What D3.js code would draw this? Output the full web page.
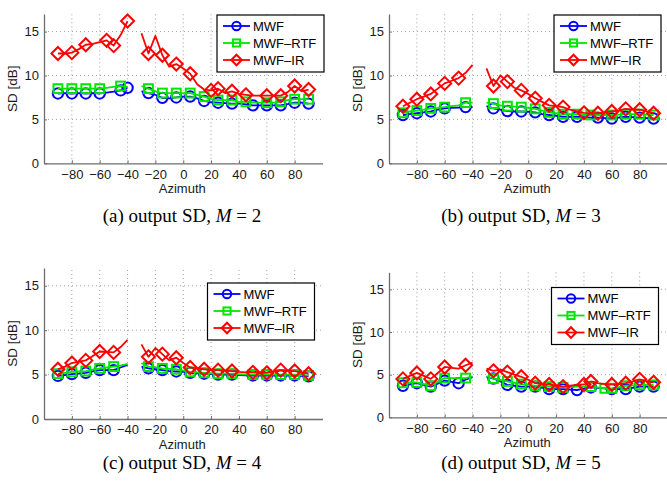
<!DOCTYPE html>
<html><head><meta charset="utf-8">
<script src="https://cdn.jsdelivr.net/npm/d3@7"></script>
<style>
html,body{margin:0;padding:0;background:#fff;}
svg{display:block;}
</style></head>
<body>
<svg id="c" width="667" height="484"></svg>
<script>
// ---------- DATA ----------
const azimuth = [-90,-85,-80,-75,-70,-65,-60,-55,-50,-45,-40,-35,-30,-25,-20,-15,-10,-5,0,5,10,15,20,25,30,35,40,45,50,55,60,65,70,75,80,85,90];
const seriesNames = ["MWF","MWF\u2013RTF","MWF\u2013IR"];
const xTicks = [-80,-60,-40,-20,0,20,40,60,80];
const yTicks = [0,5,10,15];
const panelLabels = ["(a)","(b)","(c)","(d)"];
const panelM = [2,3,4,5];

const mwfA = [7.95,8.0,7.95,8.0,7.95,8.0,7.95,8.05,8.15,8.3,8.6,null,8.2,8.0,7.8,7.45,7.4,7.5,7.6,7.6,7.4,7.1,6.95,6.9,6.85,6.8,6.8,6.7,6.6,6.6,6.6,6.6,6.6,6.75,6.9,6.9,6.8];
const rtfA = [8.5,8.5,8.5,8.5,8.5,8.5,8.5,8.6,8.7,8.8,8.7,null,8.8,8.5,8.2,8.0,8.0,8.0,8.0,8.0,7.8,7.6,7.3,7.2,7.2,7.2,7.0,7.0,6.9,6.9,6.9,6.9,7.0,7.2,7.3,7.3,7.3];
const irA  = [12.5,12.5,12.6,13.0,13.5,13.6,13.8,14.0,13.4,14.6,16.2,null,14.8,12.5,14.5,12.3,11.0,11.3,10.8,10.2,9.0,8.4,8.3,8.5,8.0,8.2,7.9,7.8,7.7,7.7,7.7,7.7,7.7,8.1,8.8,8.2,8.4];

const mwfB = [5.5,5.6,5.7,5.8,5.9,6.1,6.25,6.3,6.35,6.4,6.4,null,6.5,6.25,6.1,5.95,5.9,5.9,5.85,5.8,5.6,5.5,5.4,5.3,5.3,5.3,5.25,5.2,5.2,5.15,5.1,5.2,5.3,5.25,5.2,5.15,5.1];
const rtfB = [5.75,5.9,6.0,6.1,6.25,6.3,6.4,6.5,6.6,6.9,6.9,null,6.9,6.8,6.6,6.5,6.45,6.4,6.3,6.2,6.0,5.8,5.7,5.6,5.6,5.6,5.5,5.5,5.5,5.5,5.5,5.55,5.6,5.6,5.6,5.55,5.5];
const irB  = [6.5,6.9,7.3,7.6,7.9,8.5,9.1,9.4,9.7,10.3,11.2,null,10.8,8.8,10.0,9.3,8.6,8.3,7.9,7.4,7.0,6.6,6.5,6.4,6.1,5.9,5.75,5.7,5.7,5.8,5.9,6.0,6.2,6.15,6.1,5.9,5.7];

const mwfC = [4.85,4.95,5.05,5.1,5.2,5.35,5.5,5.5,5.5,5.8,6.1,null,5.9,5.7,5.6,5.5,5.4,5.35,5.3,5.2,5.15,5.1,5.05,5.0,5.0,5.0,4.95,4.9,4.9,4.9,4.9,4.9,4.9,4.9,4.9,4.85,4.8];
const rtfC = [5.1,5.2,5.3,5.35,5.4,5.55,5.7,5.8,5.9,6.0,6.2,null,6.3,5.9,5.8,5.7,5.65,5.6,5.45,5.3,5.25,5.2,5.15,5.1,5.1,5.1,5.05,5.0,5.0,5.0,5.0,5.0,5.0,5.0,5.0,4.95,4.9];
const irC  = [5.6,5.9,6.3,6.45,6.6,7.1,7.6,7.55,7.5,8.1,8.9,null,8.4,7.0,8.0,7.3,6.6,6.9,6.3,5.8,5.7,5.6,5.55,5.5,5.45,5.4,5.3,5.25,5.25,5.2,5.2,5.35,5.5,5.45,5.4,5.25,5.1];

const mwfD = [3.7,3.85,4.0,3.8,3.6,3.95,4.3,4.15,4.0,4.4,4.7,null,4.7,4.55,4.2,3.8,3.7,3.6,3.6,3.6,3.45,3.3,3.3,3.3,3.25,3.2,3.35,3.5,3.45,3.4,3.3,3.3,3.3,3.45,3.6,3.6,3.6];
const rtfD = [4.05,4.1,4.1,3.9,3.7,4.15,4.6,4.6,4.6,4.6,4.8,null,4.8,4.55,4.4,4.2,4.05,3.9,3.8,3.7,3.65,3.6,3.55,3.5,3.55,3.6,3.6,3.6,3.5,3.4,3.4,3.55,3.7,3.75,3.8,3.8,3.8];
const irD  = [4.5,4.85,5.2,4.85,4.5,5.2,5.9,5.8,5.7,6.1,6.4,null,5.7,5.45,5.6,5.3,5.0,4.75,4.4,4.0,3.9,3.85,3.7,3.6,3.7,3.8,3.85,4.2,4.0,3.9,3.85,3.9,4.0,4.2,4.45,4.25,4.1];

// azimuths carrying a marker, per panel and series
const mkA = [[-90,-80,-70,-60,-45,-40,-25,-15,-5,5,15,25,35,50,60,70,80,90],
             [-90,-80,-70,-60,-45,-25,-15,-5,5,15,25,35,45,60,70,80,90],
             [-90,-80,-70,-55,-50,-40,-25,-15,-5,5,20,25,35,45,60,70,80,90]];
const mkB = [[-90,-80,-70,-60,-45,-25,-15,-5,5,15,25,35,50,60,70,80,90],
             [-90,-80,-70,-60,-45,-25,-15,-5,5,15,25,35,45,60,70,80,90],
             [-90,-80,-70,-60,-50,-25,-15,-5,5,15,25,40,50,60,70,80,90]];
const mkC = [[-90,-80,-70,-60,-50,-25,-15,-5,5,15,25,35,50,60,70,80,90],
             [-90,-80,-70,-60,-50,-25,-15,-5,5,15,25,35,50,60,70,80,90],
             [-90,-80,-70,-60,-50,-25,-15,-5,5,15,25,35,50,60,70,80,90]];
const mkD = [[-90,-80,-70,-60,-50,-25,-15,-5,5,15,25,35,45,60,70,80,90],
             [-90,-80,-70,-60,-45,-25,-15,-5,5,15,25,45,55,60,70,80,90],
             [-90,-80,-70,-60,-45,-25,-15,-5,5,15,25,40,45,60,70,80,90]];

const panelData = [[mwfA,rtfA,irA],[mwfB,rtfB,irB],[mwfC,rtfC,irC],[mwfD,rtfD,irD]];
const panelMarkers = [mkA,mkB,mkC,mkD];

// ---------- LAYOUT / STYLE ----------
const SANS = "'Liberation Sans',Arial,Helvetica,sans-serif";
const SERIF = "'Liberation Serif','Times New Roman',Times,serif";
const colors = ["#0000ff","#00e600","#ff0000"];
const layout = [
  {x0:44,  x1:322.5, yb:163.3, yt:14,    leg:[217,15],   cap:[182,222]},
  {x0:389, x1:667.5, yb:163.3, yt:14,    leg:[554,15],   cap:[521,222]},
  {x0:44,  x1:322.5, yb:419,   yt:268,   leg:[207.5,283],cap:[182,469]},
  {x0:389, x1:667.5, yb:417.3, yt:272.3, leg:[551.5,287.5],cap:[521,469]}
];

const svg = d3.select("#c");

function drawMarker(g, type, x, y, color, s) {
  if (type === 0) {
    g.append("circle").attr("cx",x).attr("cy",y).attr("r",s)
      .attr("fill","none").attr("stroke",color).attr("stroke-width",2);
  } else if (type === 1) {
    g.append("rect").attr("x",x-s*0.85).attr("y",y-s*0.85).attr("width",s*1.7).attr("height",s*1.7)
      .attr("fill","none").attr("stroke",color).attr("stroke-width",2);
  } else {
    const d = s*1.25;
    g.append("path").attr("d",`M${x},${y-d}L${x+d},${y}L${x},${y+d}L${x-d},${y}Z`)
      .attr("fill","none").attr("stroke",color).attr("stroke-width",2);
  }
}

layout.forEach((L, p) => {
  const x = d3.scaleLinear().domain([-100,100]).range([L.x0, L.x1]);
  const y = d3.scaleLinear().domain([0,17]).range([L.yb, L.yt]);
  const g = svg.append("g");

  // grid
  g.selectAll(".gx").data(xTicks).enter().append("line")
    .attr("x1",d=>x(d)).attr("x2",d=>x(d)).attr("y1",L.yb).attr("y2",L.yt)
    .attr("stroke","#8a8a8a").attr("stroke-width",0.8).attr("stroke-dasharray","1,3");
  g.selectAll(".gy").data(yTicks.filter(t=>t>0)).enter().append("line")
    .attr("x1",L.x0).attr("x2",L.x1).attr("y1",d=>y(d)).attr("y2",d=>y(d))
    .attr("stroke","#8a8a8a").attr("stroke-width",0.8).attr("stroke-dasharray","1,3");

  // axes
  const ax = g.append("g").attr("transform",`translate(0,${L.yb})`)
    .call(d3.axisBottom(x).tickValues(xTicks).tickSizeInner(-3).tickSizeOuter(0).tickPadding(6));
  const ay = g.append("g").attr("transform",`translate(${L.x0},0)`)
    .call(d3.axisLeft(y).tickValues(yTicks).tickSizeInner(-3).tickSizeOuter(0).tickPadding(5));
  [ax,ay].forEach(a=>{
    a.select(".domain").attr("stroke","#6e6e6e").attr("stroke-width",1.3);
    a.selectAll(".tick line").attr("stroke","#6e6e6e");
    a.selectAll("text").attr("font-size",13).attr("fill","#1a1a1a").style("font-family",SANS);
  });

  g.append("text").attr("x",(L.x0+L.x1)/2 - 1).attr("y",L.yb+30)
    .attr("text-anchor","middle").attr("font-size",13).attr("fill","#1a1a1a")
    .style("font-family",SANS).text("Azimuth");
  g.append("text").attr("transform",`translate(${L.x0-27},${(L.yb+L.yt)/2}) rotate(-90)`)
    .attr("text-anchor","middle").attr("font-size",13.5).attr("fill","#1a1a1a")
    .style("font-family",SANS).text("SD [dB]");

  // series
  const line = d3.line().defined(d=>d[1]!==null).x(d=>x(d[0])).y(d=>y(d[1]));
  panelData[p].forEach((vals, s) => {
    const pts = azimuth.map((a,i)=>[a, vals[i]]);
    g.append("path").datum(pts).attr("d",line).attr("fill","none")
      .attr("stroke",colors[s]).attr("stroke-width",1.8).attr("stroke-linejoin","round");
    const mg = g.append("g");
    panelMarkers[p][s].forEach(a => {
      const v = vals[azimuth.indexOf(a)];
      if (v !== null && v !== undefined) drawMarker(mg, s, x(a), y(v), colors[s], 5.2);
    });
  });

  // legend
  const [lx, ly] = L.leg;
  const lg = g.append("g");
  lg.append("rect").attr("x",lx).attr("y",ly).attr("width",107).attr("height",57)
    .attr("fill","#fff").attr("stroke","#000").attr("stroke-width",1.2);
  seriesNames.forEach((n, s) => {
    const yy = ly + 11 + s*17;
    lg.append("line").attr("x1",lx+6).attr("x2",lx+33).attr("y1",yy).attr("y2",yy)
      .attr("stroke",colors[s]).attr("stroke-width",1.8);
    drawMarker(lg, s, lx+19.5, yy, colors[s], 4.2);
    lg.append("text").attr("x",lx+36).attr("y",yy+4.6).attr("font-size",13)
      .attr("fill","#000").style("font-family",SANS).text(n);
  });

  // caption
  const cap = svg.append("text").attr("x",L.cap[0]).attr("y",L.cap[1])
    .attr("text-anchor","middle").style("font-family",SERIF)
    .attr("font-size",19).attr("fill","#000");
  cap.append("tspan").text(panelLabels[p] + " output SD, ");
  cap.append("tspan").attr("font-style","italic").text("M");
  cap.append("tspan").text(" = " + panelM[p]);
});
</script>
</body></html>
